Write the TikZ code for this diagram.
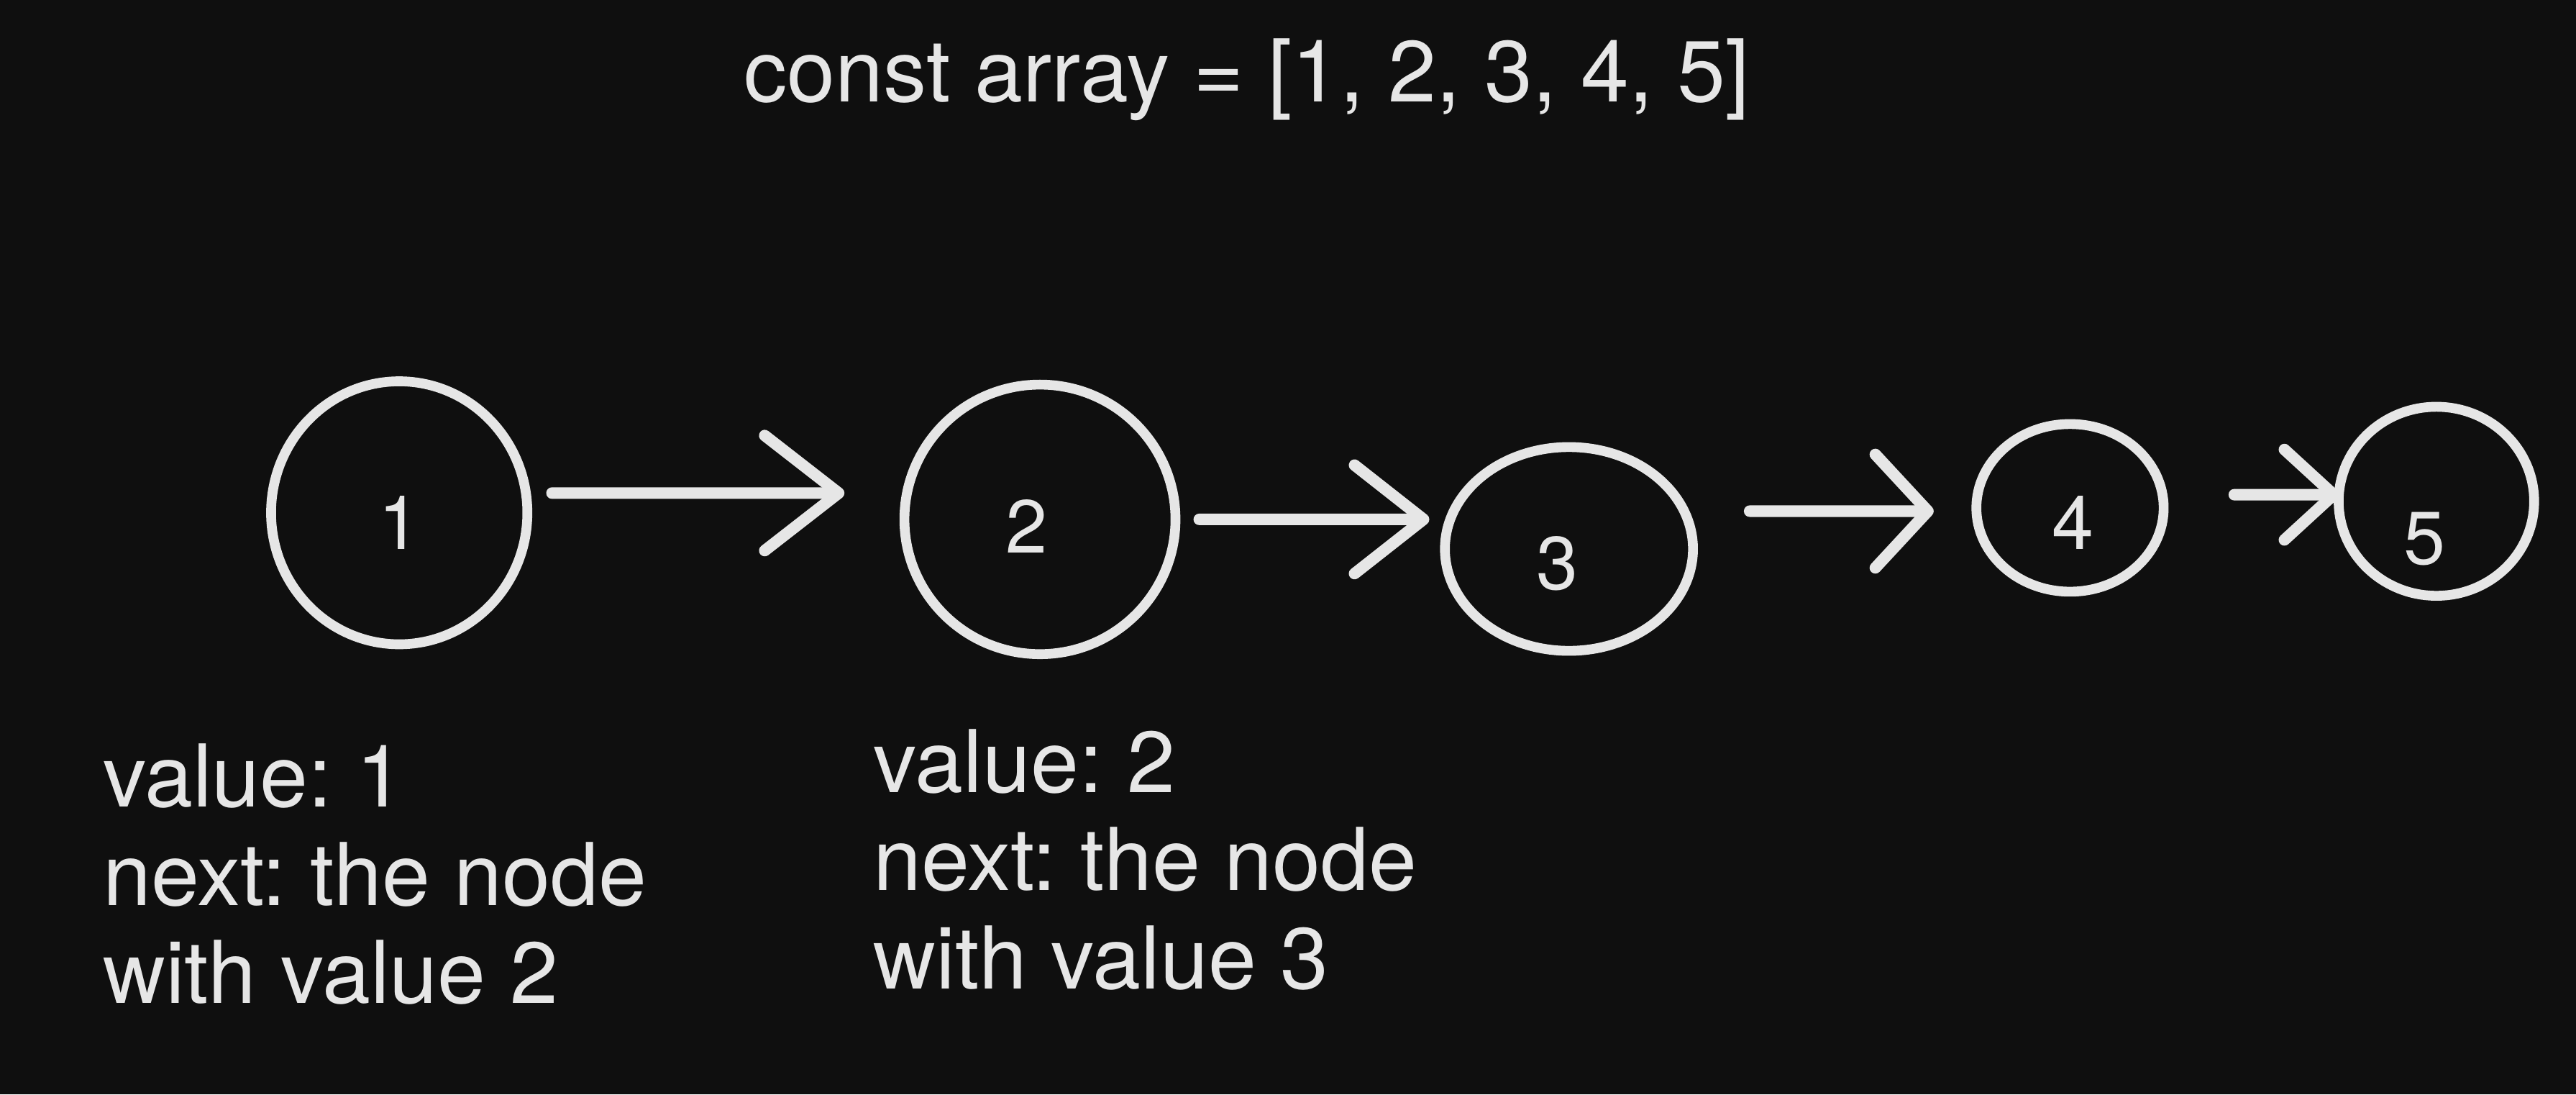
\documentclass[tikz,border=0pt]{standalone}
\usepackage{fontspec}
\setmainfont{TeX Gyre Heros}
\frenchspacing
\usetikzlibrary{arrows.meta,shapes.geometric,positioning}
\definecolor{board}{HTML}{0F0F0F}
\definecolor{chalk}{HTML}{E6E6E6}

\begin{document}
\begin{tikzpicture}[
  listnode/.style={draw=chalk, line width=1.7pt, ellipse, inner sep=0pt},
  link/.style 2 args={draw=chalk, line width=2pt, line cap=round,
    -{Straight Barb[round, length=#1, width=#2]}},
  digit/.style={text=chalk, font=\fontsize{13}{15}\selectfont},
  note/.style={text=chalk, font=\fontsize{15}{17}\selectfont, align=left,
    anchor=north west, inner sep=0pt}
]
% Board
\fill[board] (0,0) rectangle (15.68,6.66);
\useasboundingbox (0,0) rectangle (15.68,6.66);
% Title
\node[text=chalk, font=\fontsize{15}{17}\selectfont, anchor=base] (title) at (7.59,6.04) {const array = [1, 2, 3, 4, 5]};
% Hand-drawn list nodes
\foreach \n/\x/\y/\w/\h in {1/2.43/3.54/1.56/1.60, 2/6.33/3.50/1.65/1.64,
    3/9.55/3.32/1.51/1.24, 4/12.60/3.57/1.14/1.02, 5/14.83/3.61/1.19/1.15}
  \node[listnode, minimum width=\w cm, minimum height=\h cm] (c\n) at (\x,\y) {};
% Values inside
\foreach \n/\x/\y in {1/2.43/3.48, 2/6.25/3.46, 3/9.48/3.23, 4/12.62/3.48, 5/14.76/3.38}
  \node[digit] (v\n) at (\x,\y) {\n};
% Next pointers
\draw[link={0.45cm}{0.70cm}] ([shift={(0.12,0.12)}]c1.east) -- ([shift={(-0.335,0.16)}]c2.west);
\draw[link={0.42cm}{0.66cm}] ([shift={(0.115,0)}]c2.east) -- ([shift={(-0.065,0.18)}]c3.west);
\draw[link={0.32cm}{0.69cm}] ([shift={(0.315,0.23)}]c3.east) -- ([shift={(-0.23,-0.02)}]c4.west);
\draw[link={0.30cm}{0.55cm}] ([shift={(0.40,0.08)}]c4.east) -- ([shift={(0.035,0.04)}]c5.west);
% Notes
\node[note] (info1) at (0.62,2.14) {value: 1\\next: the node\\with value 2};
\node[note] (info2) at (5.31,2.23) {value: 2\\next: the node\\with value 3};
\end{tikzpicture}
\end{document}
